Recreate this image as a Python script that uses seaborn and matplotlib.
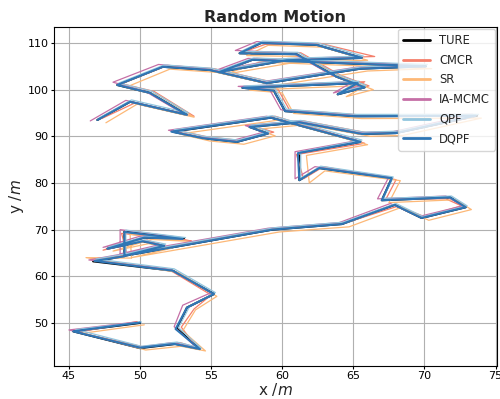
import matplotlib
matplotlib.use("Agg")
import matplotlib.pyplot as plt
import seaborn as sns
import pandas as pd

# ---- data ----
true_x = [50.0,45.3,50.0,52.5,54.2,52.6,53.3,55.2,52.3,46.7,48.9,48.9,53.1,50.3,47.7,50.2,51.7,48.9,59.3,64.2,67.9,69.8,72.9,71.8,67.0,67.7,62.6,61.2,61.2,65.5,59.2,52.3,54.4,56.8,59.0,57.7,61.2,65.6,68.0,73.7,65.1,60.2,59.4,57.2,65.3,63.9,65.8,63.8,61.0,57.0,58.5,62.4,65.6,60.3,55.6,57.9,64.8,70.1,65.5,58.9,54.9,51.6,48.4,50.7,53.3,49.3,47.0]
true_y = [50.0,48.2,44.6,45.5,44.4,48.8,53.3,56.2,61.2,63.2,64.3,69.6,68.0,68.3,65.9,67.5,66.5,64.4,70.0,71.2,75.3,72.5,74.8,76.9,76.3,81.0,83.2,80.6,86.4,88.8,94.0,91.0,89.6,88.8,90.6,92.0,93.0,90.5,90.7,94.4,94.3,95.4,99.8,100.4,101.4,99.0,100.5,102.8,107.6,107.8,110.0,109.6,106.8,106.3,103.8,106.4,105.6,105.0,104.5,101.4,104.2,104.9,101.0,99.3,94.6,97.4,93.5]

cmcr_x = [49.8,45.6,50.2,52.8,54.0,52.9,53.8,55.0,52.0,47.0,49.1,48.7,53.6,50.5,47.4,50.5,51.9,49.2,59.5,64.5,68.1,70.0,72.6,71.5,67.3,68.0,62.9,61.5,61.0,65.8,59.5,52.6,54.7,57.1,59.4,57.9,61.5,65.9,68.3,73.4,65.4,60.5,59.7,57.5,65.8,64.2,66.1,64.1,61.3,57.3,58.8,62.7,66.5,60.6,55.9,58.2,65.2,69.8,65.8,59.2,55.2,51.9,48.7,51.0,53.8,49.6,47.3]
cmcr_y = [50.3,48.0,44.9,45.8,44.7,49.1,53.0,56.0,61.5,63.5,64.6,69.2,67.6,68.6,65.6,67.8,66.2,64.7,70.3,71.5,75.0,72.8,75.1,76.6,76.6,80.7,83.5,80.9,86.1,88.5,94.3,91.3,89.9,89.1,90.9,92.3,93.3,90.8,91.0,94.1,94.6,95.7,100.1,100.7,101.7,99.3,100.8,103.1,107.9,108.1,109.7,109.9,107.1,106.6,104.1,106.7,105.9,105.3,104.8,101.7,104.5,105.2,101.3,99.6,94.3,97.1,93.8]

sr_x = [50.3,46.0,50.4,52.9,54.6,53.0,53.9,55.4,52.7,46.2,49.4,49.3,53.4,50.8,48.1,50.6,52.2,49.4,59.8,64.7,68.4,70.3,73.3,72.2,67.5,68.3,63.0,61.9,61.7,66.0,59.8,52.8,54.9,57.3,59.5,58.2,61.7,66.2,68.5,74.0,65.6,60.8,60.0,57.7,65.9,64.5,66.4,64.4,61.5,57.5,59.0,62.9,66.0,60.8,56.0,58.4,65.4,70.5,66.0,59.5,55.4,52.1,49.0,51.3,53.8,49.8,47.6]
sr_y = [49.6,47.8,44.2,45.0,44.0,48.3,52.8,55.7,60.8,64.0,63.9,69.0,67.5,67.9,65.4,67.0,66.0,64.0,69.5,70.6,74.8,72.0,74.3,76.4,75.8,80.5,82.6,80.0,85.9,88.2,93.5,90.5,89.0,88.3,90.1,91.5,92.5,90.0,90.2,93.9,93.8,94.9,99.3,99.9,100.9,98.5,100.0,102.3,107.1,107.3,109.5,109.1,106.3,105.8,103.3,105.9,105.1,104.5,104.0,100.9,103.7,104.4,100.5,98.8,94.1,96.9,92.9]

ia_x = [49.7,45.0,49.8,52.3,54.0,52.4,53.0,55.0,52.1,46.4,48.6,48.6,52.9,50.0,47.4,49.9,51.4,48.6,59.0,64.0,67.6,69.6,72.7,71.5,66.7,67.5,62.3,60.9,60.9,65.3,58.9,52.0,54.1,56.5,58.7,57.4,61.0,65.3,67.8,73.4,64.8,59.9,59.1,56.9,65.0,63.6,65.5,63.5,60.7,56.7,58.2,62.1,65.3,60.0,55.3,57.6,64.5,69.8,65.2,58.6,54.6,51.3,48.1,50.4,53.0,49.0,46.5]
ia_y = [50.2,48.5,44.8,45.8,44.6,49.2,53.8,56.5,61.5,63.5,64.7,70.0,68.3,68.6,66.2,67.8,66.8,64.8,70.3,71.5,75.6,72.8,75.1,77.2,76.6,81.3,83.5,80.9,86.7,89.1,94.3,91.3,89.9,89.1,90.9,92.3,93.3,90.8,91.0,94.7,94.6,95.7,100.1,100.7,101.7,99.3,100.8,103.1,107.9,108.4,110.3,109.9,107.1,106.6,104.1,106.7,105.9,105.3,104.8,101.7,104.5,105.4,101.6,99.6,94.9,97.7,93.3]

qpf_x = [50.1,45.5,50.1,52.6,54.3,52.7,53.5,55.3,52.4,46.9,49.0,49.0,53.2,50.4,47.8,50.3,51.8,49.0,59.4,64.3,68.0,69.9,73.0,71.9,67.1,67.8,62.7,61.3,61.3,65.6,59.3,52.4,54.5,56.9,59.1,57.8,61.3,65.7,68.1,73.8,65.2,60.3,59.5,57.3,65.4,64.0,65.9,63.9,61.1,57.1,58.6,62.5,65.7,60.4,55.7,58.0,64.9,70.2,65.6,59.0,55.0,51.7,48.5,50.8,53.4,49.4,47.1]
qpf_y = [50.2,48.6,45.0,45.9,44.6,49.0,53.6,56.5,61.6,63.7,64.8,69.9,68.3,68.6,66.3,67.8,66.9,64.8,70.4,71.6,75.6,72.8,75.1,77.2,76.7,81.3,83.6,81.0,86.7,89.2,94.4,91.4,90.0,89.2,91.0,92.4,93.4,90.9,91.1,94.7,94.7,95.8,100.2,100.8,101.8,99.4,100.9,103.2,108.0,108.2,110.4,110.0,107.2,106.7,104.2,106.8,106.0,105.4,104.9,101.8,104.6,105.3,101.4,99.7,95.0,97.8,93.9]

dqpf_x = [50.0,45.3,50.0,52.4,54.2,52.5,53.3,55.2,52.3,46.8,48.9,48.9,53.0,50.3,47.7,50.2,51.7,48.9,59.3,64.2,67.9,69.8,72.9,71.8,67.0,67.7,62.6,61.2,61.1,65.5,59.2,52.2,54.4,56.8,59.0,57.7,61.2,65.6,68.0,73.6,65.1,60.2,59.4,57.2,65.3,63.9,65.8,63.8,61.0,57.0,58.5,62.4,65.6,60.3,55.6,57.9,64.8,70.1,65.5,58.9,54.9,51.6,48.4,50.7,53.3,49.3,47.0]
dqpf_y = [50.1,48.2,44.7,45.5,44.4,48.7,53.3,56.2,61.2,63.3,64.3,69.5,68.0,68.3,65.9,67.5,66.5,64.4,70.0,71.2,75.3,72.5,74.8,76.9,76.3,81.0,83.2,80.6,86.4,88.8,94.0,91.0,89.6,88.8,90.6,92.0,93.0,90.5,90.7,94.4,94.3,95.4,99.8,100.4,101.4,99.0,100.5,102.8,107.6,107.8,110.0,109.6,106.8,106.3,103.8,106.4,105.6,105.0,104.5,101.4,104.2,104.9,101.0,99.3,94.6,97.4,93.5]

labels = ["TURE", "CMCR", "SR", "IA-MCMC", "QPF", "DQPF"]
xs = [true_x, cmcr_x, sr_x, ia_x, qpf_x, dqpf_x]
ys = [true_y, cmcr_y, sr_y, ia_y, qpf_y, dqpf_y]

colors = ["#000000", "#F47E6A", "#FDB877", "#C56FA6", "#92C5DE", "#2F76B5"]
widths = [1.5, 0.9, 0.9, 0.9, 0.9, 1.5]

sns.set_style("white")
plt.rcParams['font.family'] = ['DejaVu Sans']

fig = plt.figure(figsize=(5.0, 3.99), dpi=100)
ax = fig.add_axes([0.108, 0.083, 0.886, 0.849])

for lab, x, y, c, w in zip(labels, xs, ys, colors, widths):
    df = pd.DataFrame({"x": x, "y": y})
    sns.lineplot(data=df, x="x", y="y", sort=False, estimator=None,
                 color=c, lw=w, label=lab, ax=ax)

ax.set_xlim(43.95, 75.1)
ax.set_ylim(40.8, 113.4)
ax.set_xticks([45, 50, 55, 60, 65, 70, 75])
ax.set_yticks([50, 60, 70, 80, 90, 100, 110])
ax.grid(True, color="#b0b0b0", lw=0.8)
ax.set_axisbelow(True)
for s in ax.spines.values():
    s.set_color("black")
    s.set_linewidth(0.8)
ax.tick_params(axis="both", direction="out", length=2.5, width=0.8, pad=1.5,
               labelsize=8, colors="black", bottom=True, left=True)

ax.set_title("Random Motion", fontsize=11.5, fontweight="bold", pad=4)
ax.set_xlabel("x /$m$", fontsize=11, labelpad=0)
ax.set_ylabel("y /$m$", fontsize=11, labelpad=1)

leg = ax.legend(loc="upper right", fontsize=8.3, handlelength=2.3, labelspacing=0.58,
                borderpad=0.45, borderaxespad=0.15, frameon=True, fancybox=True, framealpha=0.8)
for h in leg.get_lines():
    h.set_linewidth(2.0)

fig.savefig("out.png", dpi=100)
